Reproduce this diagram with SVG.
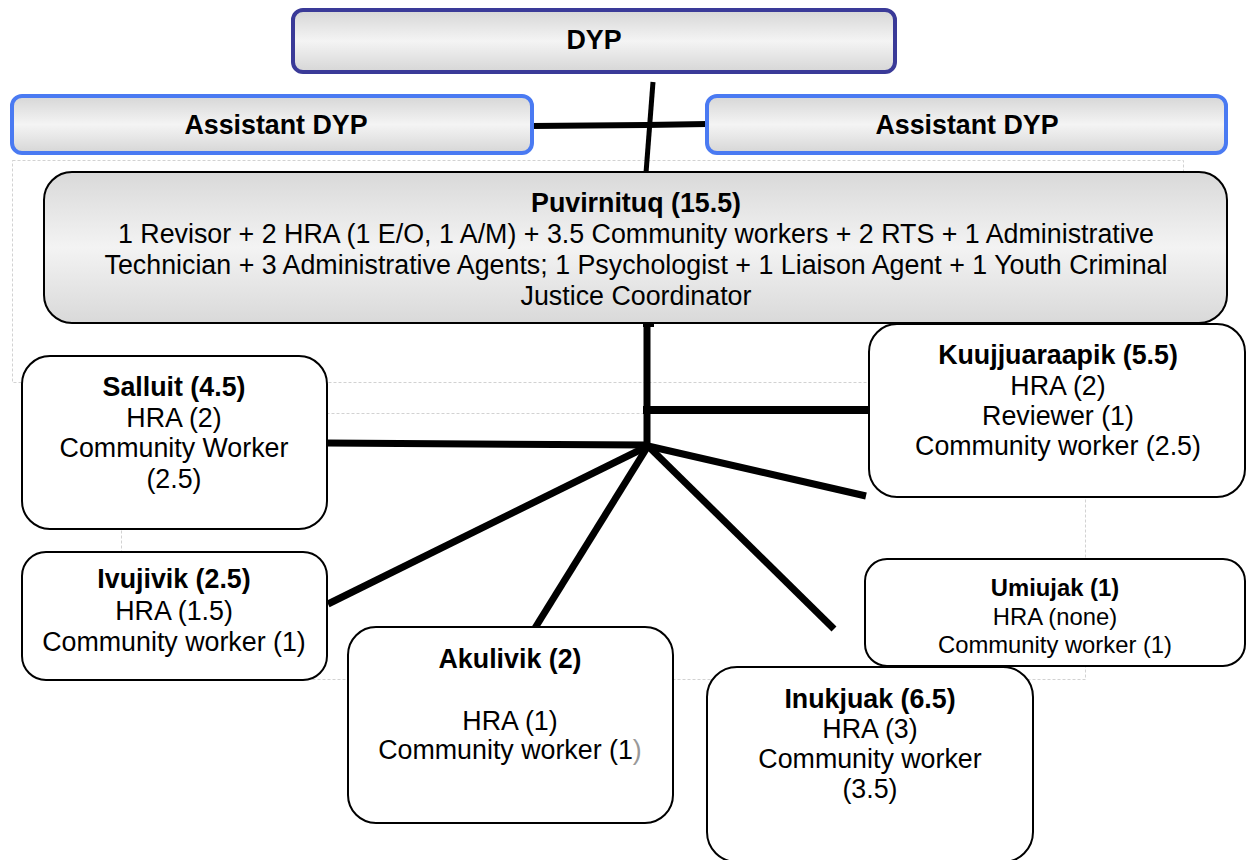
<svg xmlns="http://www.w3.org/2000/svg" width="1246" height="860" viewBox="0 0 1246 860">
<defs>
<linearGradient id="gTop" x1="0" y1="0" x2="0" y2="1">
<stop offset="0" stop-color="#d6d6d6"/><stop offset="0.5" stop-color="#f4f4f4"/><stop offset="1" stop-color="#d6d6d6"/>
</linearGradient>
<linearGradient id="gMid" x1="0" y1="0" x2="0" y2="1">
<stop offset="0" stop-color="#d9d9d9"/><stop offset="0.5" stop-color="#f3f3f3"/><stop offset="1" stop-color="#d9d9d9"/>
</linearGradient>
<style>
text{font-family:"Liberation Sans",Arial,sans-serif;font-size:26.8px;fill:#000;text-anchor:middle}
.b{font-weight:bold}
.sm{font-size:23.8px}
.faint{fill:none;stroke:#d2d2d2;stroke-width:1}
.dash{stroke-dasharray:3 2}
.con{stroke:#000;stroke-width:7;fill:none;stroke-linecap:butt}
.town{fill:#fff;stroke:#000;stroke-width:2}
.dyp{fill:url(#gTop);stroke:#3a3a98;stroke-width:4}
.asst{fill:url(#gTop);stroke:#4a7af2;stroke-width:4}
.pov{fill:url(#gMid);stroke:#000;stroke-width:2}
</style>
</defs>
<rect width="1246" height="860" fill="#fff"/>
<g id="background">
<rect class="faint dash" x="12.5" y="160.5" width="1171" height="222"/>
<rect class="faint dash" x="121.5" y="413.5" width="964" height="266"/>
</g>
<g id="connectors">
<line class="con" x1="653" y1="82" x2="646" y2="173" style="stroke-width:5"/>
<line class="con" x1="532" y1="126" x2="646" y2="125" style="stroke-width:6"/>
<line class="con" x1="646" y1="125" x2="707" y2="124" style="stroke-width:6"/>
<rect x="643" y="321" width="11" height="6" fill="#000"/>
<line class="con" x1="647" y1="322" x2="647" y2="448"/>
<line class="con" x1="643" y1="410" x2="870" y2="410" style="stroke-width:8"/>
<line class="con" x1="326" y1="443" x2="648" y2="445"/>
<line class="con" x1="648" y1="446" x2="328" y2="604"/>
<line class="con" x1="648" y1="446" x2="535" y2="628"/>
<line class="con" x1="648" y1="446" x2="834" y2="629"/>
<line class="con" x1="648" y1="446" x2="866" y2="496"/>
</g>
<g id="dyp">
<rect class="dyp" x="293" y="10" width="602" height="62" rx="10"/>
<text class="b" x="594" y="49">DYP</text>
</g>
<g id="assistant-left">
<rect class="asst" x="12" y="96" width="520" height="57" rx="10"/>
<text class="b" x="276" y="134">Assistant DYP</text>
</g>
<g id="assistant-right">
<rect class="asst" x="707" y="96" width="519" height="57" rx="10"/>
<text class="b" x="967" y="134">Assistant DYP</text>
</g>
<g id="puvirnituq">
<rect class="pov" x="44" y="172" width="1183" height="151" rx="28"/>
<text class="b" x="636" y="212">Puvirnituq (15.5)</text>
<text x="636" y="243">1 Revisor + 2 HRA (1 E/O, 1 A/M) + 3.5 Community workers + 2 RTS + 1 Administrative</text>
<text x="636" y="274">Technician + 3 Administrative Agents; 1 Psychologist + 1 Liaison Agent + 1 Youth Criminal</text>
<text x="636" y="305">Justice Coordinator</text>
</g>
<g id="kuujjuaraapik">
<rect class="town" x="869" y="324" width="376" height="173" rx="28"/>
<text class="b" x="1058" y="364">Kuujjuaraapik (5.5)</text>
<text x="1058" y="395">HRA (2)</text>
<text x="1058" y="425">Reviewer (1)</text>
<text x="1058" y="455">Community worker (2.5)</text>
</g>
<g id="salluit">
<rect class="town" x="22" y="356" width="305" height="173" rx="28"/>
<text class="b" x="174" y="396">Salluit (4.5)</text>
<text x="174" y="427">HRA (2)</text>
<text x="174" y="457">Community Worker</text>
<text x="174" y="488">(2.5)</text>
</g>
<g id="ivujivik">
<rect class="town" x="22" y="552" width="305" height="128" rx="24"/>
<text class="b" x="174" y="588">Ivujivik (2.5)</text>
<text x="174" y="620">HRA (1.5)</text>
<text x="174" y="651">Community worker (1)</text>
</g>
<g id="akulivik">
<rect class="town" x="348" y="627" width="325" height="196" rx="28"/>
<text class="b" x="510" y="668">Akulivik (2)</text>
<text x="510" y="730">HRA (1)</text>
<text x="510" y="759">Community worker (1<tspan fill="#999">)</tspan></text>
</g>
<g id="umiujak">
<rect class="town" x="865" y="559" width="380" height="107" rx="22"/>
<text class="b sm" x="1055" y="596">Umiujak (1)</text>
<text class="sm" x="1055" y="625">HRA (none)</text>
<text class="sm" x="1055" y="653">Community worker (1)</text>
</g>
<g id="inukjuak">
<rect class="town" x="707" y="667" width="326" height="195" rx="30"/>
<text class="b" x="870" y="708">Inukjuak (6.5)</text>
<text x="870" y="738">HRA (3)</text>
<text x="870" y="768">Community worker</text>
<text x="870" y="798">(3.5)</text>
</g>
</svg>
